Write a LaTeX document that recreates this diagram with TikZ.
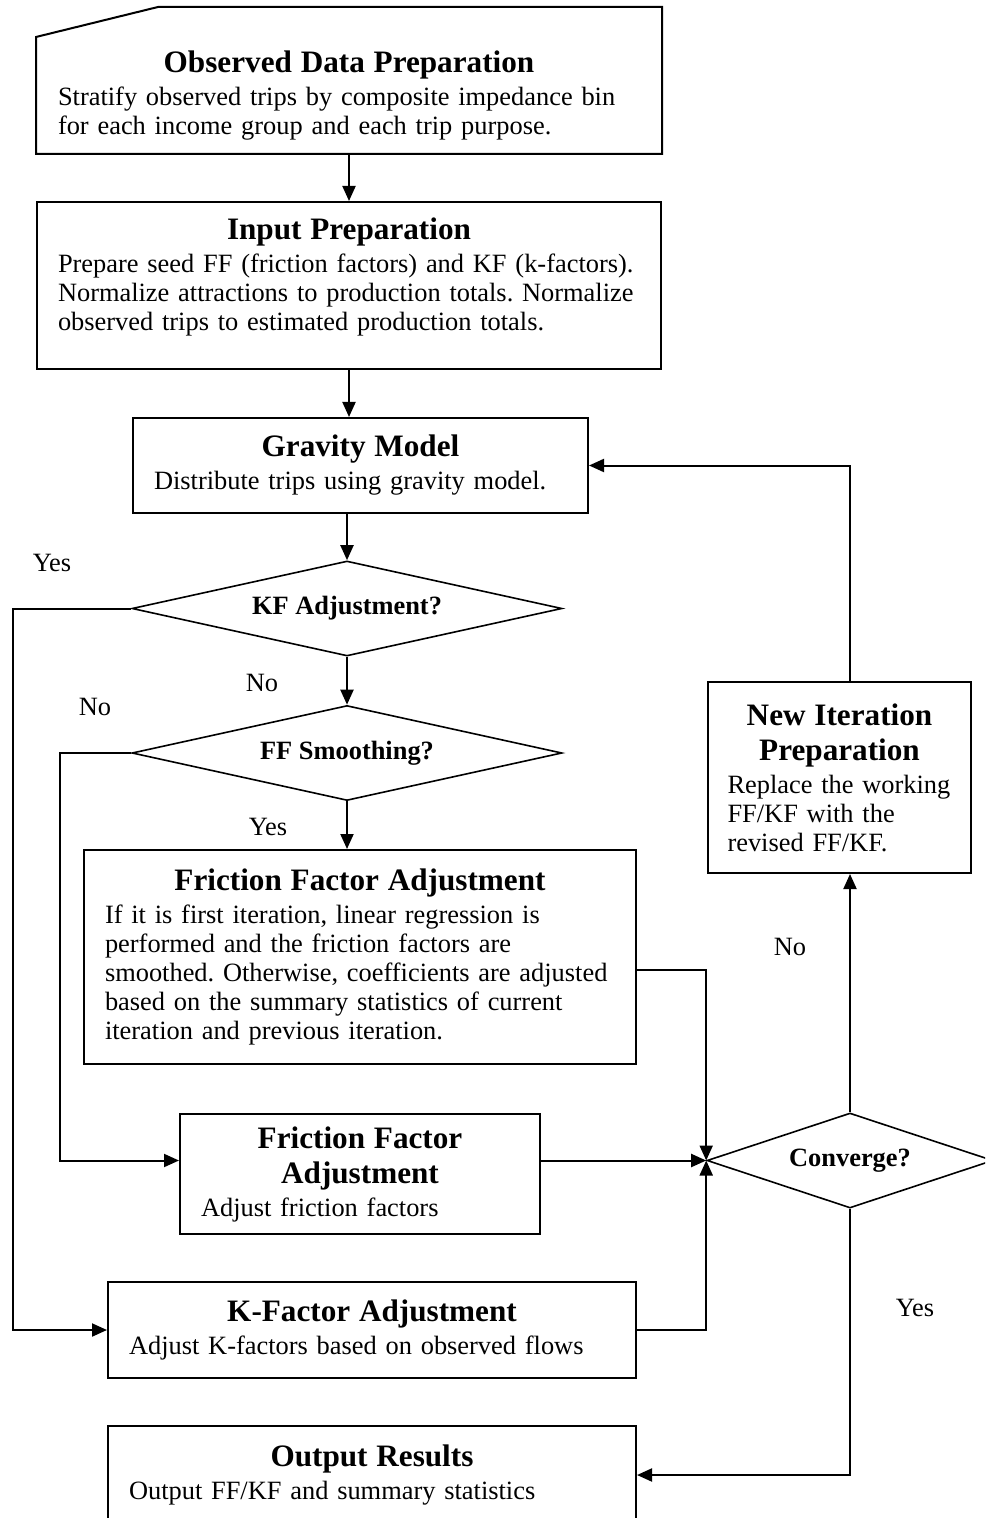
\documentclass[tikz,border=0pt]{standalone}
\usepackage{fontspec}
\setmainfont{Liberation Serif}
\usetikzlibrary{arrows.meta,positioning,shapes.geometric}
\frenchspacing

\newcommand{\bodyfont}{\fontsize{13.2}{14.5}\selectfont}
\newcommand{\headfont}{\fontsize{15.6}{17.5}\selectfont\bfseries}
\newcommand{\askfont}{\fontsize{13.2}{15}\selectfont\bfseries}
\newcommand{\boxtitle}[1]{{\centering\headfont #1\par}\vspace{2pt}}
\newcommand{\padbelow}[1]{\rule[-#1]{0pt}{#1}}

\begin{document}
\begin{tikzpicture}[x=0.5pt,y=-0.5pt,>={Triangle[length=7.5pt,width=6.5pt]},line width=1pt]
  \tikzstyle{stepbox}=[draw,line width=1pt,anchor=north west,align=left,font=\bodyfont,inner xsep=10.5pt,inner ysep=0pt]
  \tikzstyle{askbox}=[draw,diamond,aspect=3,line width=0.8pt,font=\askfont,inner sep=0pt,minimum height=47.5pt]
  \tikzstyle{lbl}=[font=\bodyfont,inner sep=0pt]
  \useasboundingbox (0,0) rectangle (985,1518);
  \clip (0,0) rectangle (985,1518);
  % main column
  \node[stepbox,draw=none,minimum width=312pt,minimum height=57.5pt,text width=291pt] (obs) at (36,37)
    {\boxtitle{Observed Data Preparation}Stratify observed trips by composite impedance bin\\for each income group and each trip purpose.};
  \draw (obs.south west) -- (obs.north west) -- ++(122,-30) -| (obs.south east) -- cycle;
  \node[stepbox,minimum width=312pt,minimum height=83.5pt,text width=291pt] (inp) at (36,201)
    {\boxtitle{Input Preparation}Prepare seed FF (friction factors) and KF (k-factors).\\Normalize attractions to production totals. Normalize\\observed trips to estimated production totals.\padbelow{11pt}};
  \node[stepbox,minimum width=227.5pt,minimum height=47.5pt,text width=206.5pt] (grav) at (132,417)
    {\boxtitle{Gravity Model}Distribute trips using gravity model.};
  \node[askbox,minimum width=215pt] (kfq) at (347,608.5) {KF Adjustment?};
  \node[askbox,minimum width=215pt] (ffq) at (347,753) {FF Smoothing?};
  \node[stepbox,minimum width=276pt,minimum height=107pt,text width=255pt] (ffa1) at (83,849)
    {\boxtitle{Friction Factor Adjustment}If it is first iteration, linear regression is\\performed and the friction factors are\\smoothed. Otherwise, coefficients are adjusted\\based on the summary statistics of current\\iteration and previous iteration.};
  \node[stepbox,minimum width=180pt,minimum height=60pt,text width=159pt] (ff2) at (179,1113)
    {\boxtitle{Friction Factor\\Adjustment}Adjust friction factors};
  \node[stepbox,minimum width=264pt,minimum height=48pt,text width=243pt] (kfa) at (107,1281)
    {\boxtitle{K-Factor Adjustment}Adjust K-factors based on observed flows};
  \node[stepbox,minimum width=264pt,minimum height=49pt,text width=243pt] (out) at (107,1425)
    {\boxtitle{Output Results}Output FF/KF and summary statistics};
  % loop on the right
  \node[askbox,minimum width=143pt] (conv) at (850,1160.5) {Converge?};
  \node[stepbox,minimum width=131.5pt,minimum height=95.5pt,text width=112pt,inner xsep=9.75pt] (newi) at (707,681)
    {\boxtitle{New Iteration\\Preparation}Replace the working\\FF/KF with the\\revised FF/KF.};
  % branch labels
  \node[lbl] (kfyes) at (52,563) {Yes};
  \node[lbl] (kfno) at (262,683) {No};
  \node[lbl] (ffno) at (95,707) {No};
  \node[lbl] (ffyes) at (268,827) {Yes};
  \node[lbl] (convno) at (790,947) {No};
  \node[lbl] (convyes) at (915,1308) {Yes};
  \coordinate (outerrail) at (13,0);
  \coordinate (innerrail) at (60,0);
  % connectors
  \draw[->] (obs.south) -- (inp.north);
  \draw[->] (inp.south) -- (inp.south |- grav.north);
  \draw[->] (kfq.north |- grav.south) -- (kfq.north);
  \draw[->] (kfq.south) -- (ffq.north);
  \draw[->] (ffq.south) -- (ffq.south |- ffa1.north);
  \draw[->] (kfq.west) -- (kfq.west -| outerrail) |- (kfa.west);
  \draw[->] (ffq.west) -- (ffq.west -| innerrail) |- (ff2.west |- conv.west);
  \draw[->] ([yshift=-6.5pt]ffa1.east) -| (conv.west);
  \draw[->] (ff2.east |- conv.west) -- (conv.west);
  \draw[->] (kfa.east) -| (conv.west);
  \draw[->] (conv.north) -- (conv.north |- newi.south);
  \draw[->] (conv.north |- newi.north) |- (grav.east);
  \draw[->] (conv.south) |- (out.east);
\end{tikzpicture}
\end{document}
